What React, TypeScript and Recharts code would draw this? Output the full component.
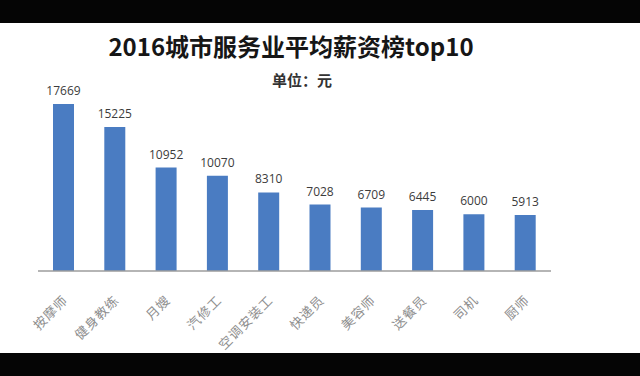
import React from 'react';
import { BarChart, Bar, XAxis, YAxis, LabelList } from 'recharts';

const categories = ['按摩师', '健身教练', '月嫂', '汽修工', '空调安装工', '快递员', '美容师', '送餐员', '司机', '厨师'];
const salaries = [17669, 15225, 10952, 10070, 8310, 7028, 6709, 6445, 6000, 5913];
const yDomain = [0, 20000];

const data = categories.map((name, i) => ({ name, value: salaries[i] }));

const RotatedTick = (props: any) => {
  const { x, y, payload } = props;
  return (
    <g transform={`translate(${x + 5},${y + 22})`}>
      <text
        x={0}
        y={0}
        textAnchor="end"
        transform="rotate(-45)"
        fill="#8e8e8e"
        fontSize={13}
        letterSpacing={1}
        fontFamily="'Noto Sans CJK SC', sans-serif"
      >
        {payload.value}
      </text>
    </g>
  );
};

export default function App() {
  return (
    <div style={{ position: 'absolute', left: 0, top: 0, width: 640, height: 376, background: '#ffffff', overflow: 'hidden' }}>
      <div style={{ position: 'absolute', left: 0, top: 0, width: 640, height: 23, background: '#050505' }} />
      <div style={{ position: 'absolute', left: 0, top: 353, width: 640, height: 23, background: '#050505' }} />
      <div
        style={{
          position: 'absolute', left: 0, width: 582, top: 30, textAlign: 'center',
          fontFamily: "'Noto Sans CJK SC', sans-serif", fontWeight: 700, fontSize: 24, lineHeight: '32px', color: '#161616',
        }}
      >
        2016城市服务业平均薪资榜top10
      </div>
      <div
        style={{
          position: 'absolute', left: 0, width: 604, top: 70, textAlign: 'center',
          fontFamily: "'Noto Sans CJK SC', sans-serif", fontWeight: 700, fontSize: 15, lineHeight: '20px', color: '#333333',
        }}
      >
        单位：元
      </div>
      <div style={{ position: 'absolute', left: 0, top: 0 }}>
        <BarChart width={640} height={376} data={data} margin={{ top: 82, right: 89, bottom: 0, left: 38 }}>
          <XAxis
            dataKey="name"
            height={105}
            interval={0}
            tickLine={false}
            axisLine={{ stroke: '#9c9c9c', strokeWidth: 1.5 }}
            tick={<RotatedTick />}
          />
          <YAxis hide domain={yDomain} />
          <Bar dataKey="value" fill="#4a7cc2" barSize={21} isAnimationActive={false}>
            <LabelList
              dataKey="value"
              position="top"
              offset={9}
              fill="#3c3c3c"
              fontSize={12}
              fontFamily="'Open Sans', sans-serif"
            />
          </Bar>
        </BarChart>
      </div>
    </div>
  );
}
